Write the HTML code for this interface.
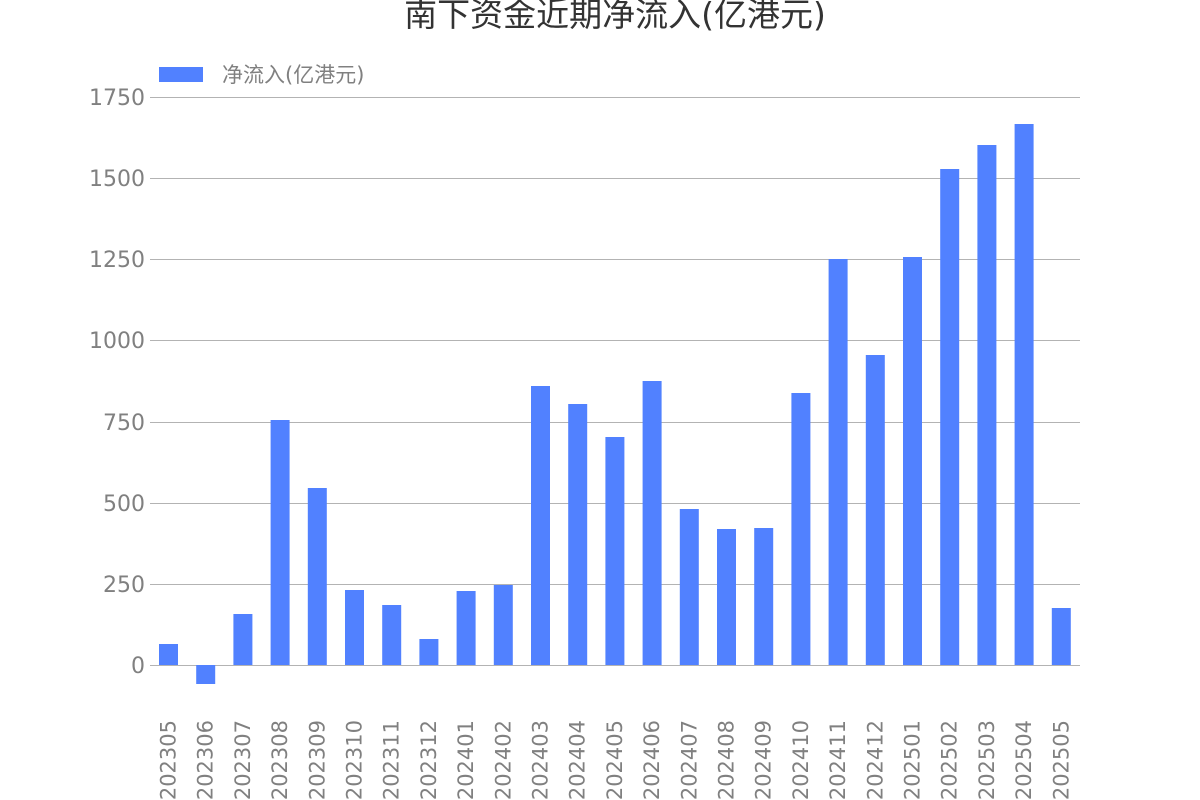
<!DOCTYPE html>
<html><head><meta charset="utf-8"><style>
body{margin:0;background:#fff;}
svg{display:block;font-family:"DejaVu Sans","Noto Sans CJK SC",sans-serif;}
</style></head><body>
<svg width="1200" height="800" xmlns="http://www.w3.org/2000/svg">
<text x="615" y="26" text-anchor="middle" font-size="33" fill="#333" font-family="'DejaVu Sans','Noto Sans CJK SC',sans-serif">南下资金近期净流入(亿港元)</text>
<rect x="159" y="67" width="44" height="15" fill="#5181ff"/>
<text x="222" y="82" font-size="21" fill="#808080" font-family="'DejaVu Sans','Noto Sans CJK SC',sans-serif">净流入(亿港元)</text>
<g stroke="#b3b3b3" stroke-width="1">
<line x1="150" x2="1080" y1="97.5" y2="97.5"/>
<line x1="150" x2="1080" y1="178.5" y2="178.5"/>
<line x1="150" x2="1080" y1="259.5" y2="259.5"/>
<line x1="150" x2="1080" y1="340.5" y2="340.5"/>
<line x1="150" x2="1080" y1="422.5" y2="422.5"/>
<line x1="150" x2="1080" y1="503.5" y2="503.5"/>
<line x1="150" x2="1080" y1="584.5" y2="584.5"/>
<line x1="150" x2="1080" y1="665.5" y2="665.5"/>
</g>
<g font-size="22" fill="#808080" text-anchor="end">
<text x="145" y="105">1750</text>
<text x="145" y="186">1500</text>
<text x="145" y="267">1250</text>
<text x="145" y="348">1000</text>
<text x="145" y="430">750</text>
<text x="145" y="511">500</text>
<text x="145" y="592">250</text>
<text x="145" y="673">0</text>
</g>
<g fill="#5181ff" id="bars"></g>
<g id="labels" font-size="21" fill="#808080"></g>
<script>
var tops=[644,684,614,420,488,590,605,639,591,585,386,404,437,381,509,529,528,393,259,355,257,169,145,124,608];
var labs=["202305","202306","202307","202308","202309","202310","202311","202312","202401","202402","202403","202404","202405","202406","202407","202408","202409","202410","202411","202412","202501","202502","202503","202504","202505"];
var ns="http://www.w3.org/2000/svg",b=document.getElementById("bars"),l=document.getElementById("labels");
for(var i=0;i<25;i++){var cx=168.5+i*37.2;var r=document.createElementNS(ns,"rect");
var y0=Math.min(tops[i],665),y1=Math.max(tops[i],665);
r.setAttribute("x",cx-9.5);r.setAttribute("width",19);r.setAttribute("y",y0);r.setAttribute("height",y1-y0);b.appendChild(r);
var t=document.createElementNS(ns,"text");t.setAttribute("transform","translate("+(cx+7)+",720) rotate(-90)");t.setAttribute("text-anchor","end");t.textContent=labs[i];l.appendChild(t);}
</script>
</svg>
</body></html>
